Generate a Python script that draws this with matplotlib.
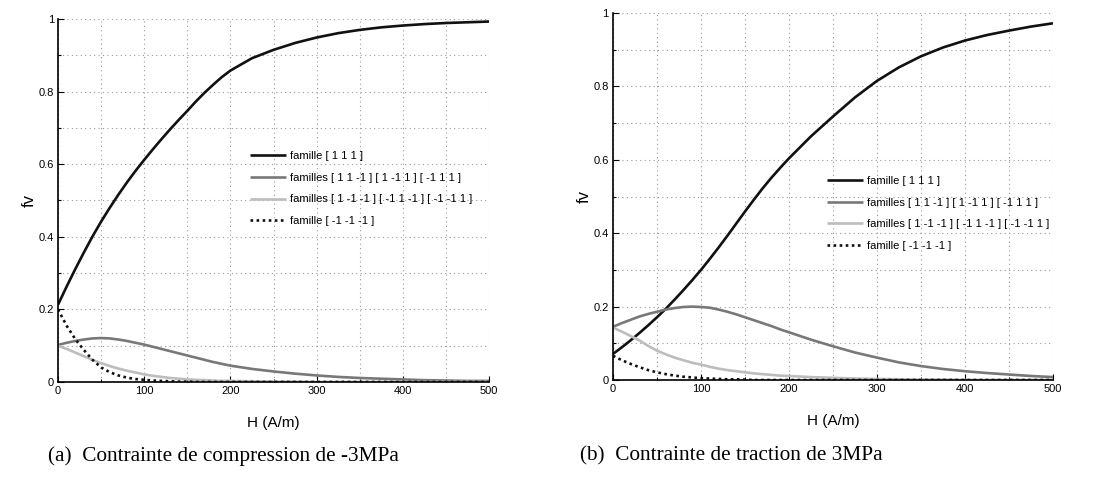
import matplotlib
matplotlib.use("Agg")
import matplotlib.pyplot as plt
from matplotlib.ticker import MultipleLocator

H = [0, 10, 20, 30, 40, 50, 60, 70, 80, 90, 100, 110, 120, 130, 140, 150, 160,
     170, 180, 190, 200, 225, 250, 275, 300, 325, 350, 375, 400, 425, 450, 475, 500]

# (a) compression -3MPa
a_111 = [0.213, 0.263, 0.311, 0.357, 0.401, 0.442, 0.480, 0.516, 0.550, 0.582, 0.612,
         0.641, 0.669, 0.696, 0.722, 0.747, 0.773, 0.797, 0.819, 0.840, 0.858, 0.892,
         0.915, 0.934, 0.949, 0.961, 0.970, 0.977, 0.982, 0.986, 0.989, 0.991, 0.993]
a_11m = [0.102, 0.108, 0.113, 0.117, 0.120, 0.121, 0.120, 0.117, 0.113, 0.108, 0.103,
         0.097, 0.091, 0.085, 0.079, 0.073, 0.067, 0.061, 0.055, 0.050, 0.045, 0.036,
         0.029, 0.023, 0.018, 0.014, 0.011, 0.009, 0.007, 0.005, 0.004, 0.003, 0.003]
a_1mm = [0.100, 0.091, 0.081, 0.071, 0.061, 0.052, 0.044, 0.037, 0.031, 0.026, 0.021,
         0.017, 0.014, 0.011, 0.009, 0.007, 0.006, 0.005, 0.004, 0.003, 0.003, 0.002,
         0.001, 0.001, 0.0, 0.0, 0.0, 0.0, 0.0, 0.0, 0.0, 0.0, 0.0]
a_mmm = [0.200, 0.155, 0.118, 0.088, 0.061, 0.040, 0.027, 0.018, 0.012, 0.008, 0.006,
         0.004, 0.003, 0.002, 0.001, 0.001, 0.0, 0.0, 0.0, 0.0, 0.0, 0.0,
         0.0, 0.0, 0.0, 0.0, 0.0, 0.0, 0.0, 0.0, 0.0, 0.0, 0.0]

# (b) traction 3MPa
b_111 = [0.071, 0.089, 0.108, 0.128, 0.149, 0.171, 0.194, 0.219, 0.245, 0.272, 0.300,
         0.330, 0.361, 0.393, 0.426, 0.459, 0.491, 0.522, 0.551, 0.578, 0.604, 0.664,
         0.718, 0.770, 0.815, 0.852, 0.882, 0.906, 0.925, 0.940, 0.952, 0.963, 0.972]
b_11m = [0.145, 0.155, 0.164, 0.173, 0.180, 0.186, 0.192, 0.196, 0.199, 0.200, 0.199,
         0.197, 0.192, 0.186, 0.179, 0.171, 0.163, 0.155, 0.147, 0.138, 0.130, 0.110,
         0.092, 0.075, 0.061, 0.048, 0.038, 0.030, 0.024, 0.019, 0.015, 0.011, 0.008]
b_1mm = [0.143, 0.132, 0.120, 0.108, 0.093, 0.080, 0.070, 0.061, 0.054, 0.047, 0.042,
         0.036, 0.031, 0.027, 0.024, 0.021, 0.018, 0.016, 0.014, 0.012, 0.011, 0.008,
         0.006, 0.004, 0.003, 0.002, 0.001, 0.001, 0.0, 0.0, 0.0, 0.0, 0.0]
b_mmm = [0.066, 0.054, 0.044, 0.035, 0.027, 0.021, 0.016, 0.012, 0.009, 0.007, 0.005,
         0.004, 0.003, 0.002, 0.002, 0.001, 0.0, 0.0, 0.0, 0.0, 0.0, 0.0,
         0.0, 0.0, 0.0, 0.0, 0.0, 0.0, 0.0, 0.0, 0.0, 0.0, 0.0]

labels = ["famille [ 1 1 1 ]",
          "familles [ 1 1 -1 ] [ 1 -1 1 ] [ -1 1 1 ]",
          "familles [ 1 -1 -1 ] [ -1 1 -1 ] [ -1 -1 1 ]",
          "famille [ -1 -1 -1 ]"]
captions = ["(a)  Contrainte de compression de -3MPa",
            "(b)  Contrainte de traction de 3MPa"]

plt.rcParams['font.family'] = ['Liberation Sans', 'DejaVu Sans']

fig = plt.figure(figsize=(10.95, 4.8), dpi=100)
ax_a = fig.add_axes([0.053, 0.2042, 0.3936, 0.7562])
ax_b = fig.add_axes([0.5598, 0.2083, 0.4018, 0.7646])

styles = [dict(color='#111111', lw=1.9, ls='-'),
          dict(color='#787878', lw=1.9, ls='-'),
          dict(color='#bdbdbd', lw=1.9, ls='-'),
          dict(color='#111111', lw=1.9, ls=(0, (1, 1.3)))]

panels = [(ax_a, [a_111, a_11m, a_1mm, a_mmm], (0.445, 0.636), captions[0], 0.2037),
          (ax_b, [b_111, b_11m, b_1mm, b_mmm], (0.486, 0.556), captions[1], 0.6676)]

for ax, series, anchor, cap, capx in panels:
    for s, st, lab in zip(series, styles, labels):
        ax.plot(H, s, label=lab, solid_capstyle='butt', solid_joinstyle='round', **st)
    ax.set_xlim(0, 500)
    ax.set_ylim(0, 1)
    ax.xaxis.set_major_locator(MultipleLocator(100))
    ax.xaxis.set_minor_locator(MultipleLocator(50))
    ax.yaxis.set_major_locator(MultipleLocator(0.2))
    ax.yaxis.set_minor_locator(MultipleLocator(0.1))
    ax.set_yticks([0, 0.2, 0.4, 0.6, 0.8, 1])
    ax.set_yticklabels(['0', '0.2', '0.4', '0.6', '0.8', '1'])
    ax.grid(True, which='both', color='#9a9a9a', ls=(0, (1, 3)), lw=0.8)
    ax.set_axisbelow(True)
    for sp in ['top', 'right']:
        ax.spines[sp].set_visible(False)
    for sp in ['left', 'bottom']:
        ax.spines[sp].set_linewidth(1.2)
    ax.tick_params(which='major', direction='in', length=4, width=0.8,
                   labelsize=8, pad=3)
    ax.tick_params(which='minor', direction='in', length=2.5, width=0.8)
    ax.set_xlabel("H (A/m)", fontsize=11, labelpad=14)
    ax.set_ylabel("fv", fontsize=12, labelpad=1)
    ax.legend(loc='upper left', bbox_to_anchor=anchor, frameon=False,
              fontsize=8, handlelength=3.3, handletextpad=0.3,
              labelspacing=1.05, borderpad=0, borderaxespad=0)
    fig.text(capx, 0.05, cap, ha='center', va='center',
             fontsize=15.3, family='Liberation Serif')

fig.savefig("out.png", dpi=100)
